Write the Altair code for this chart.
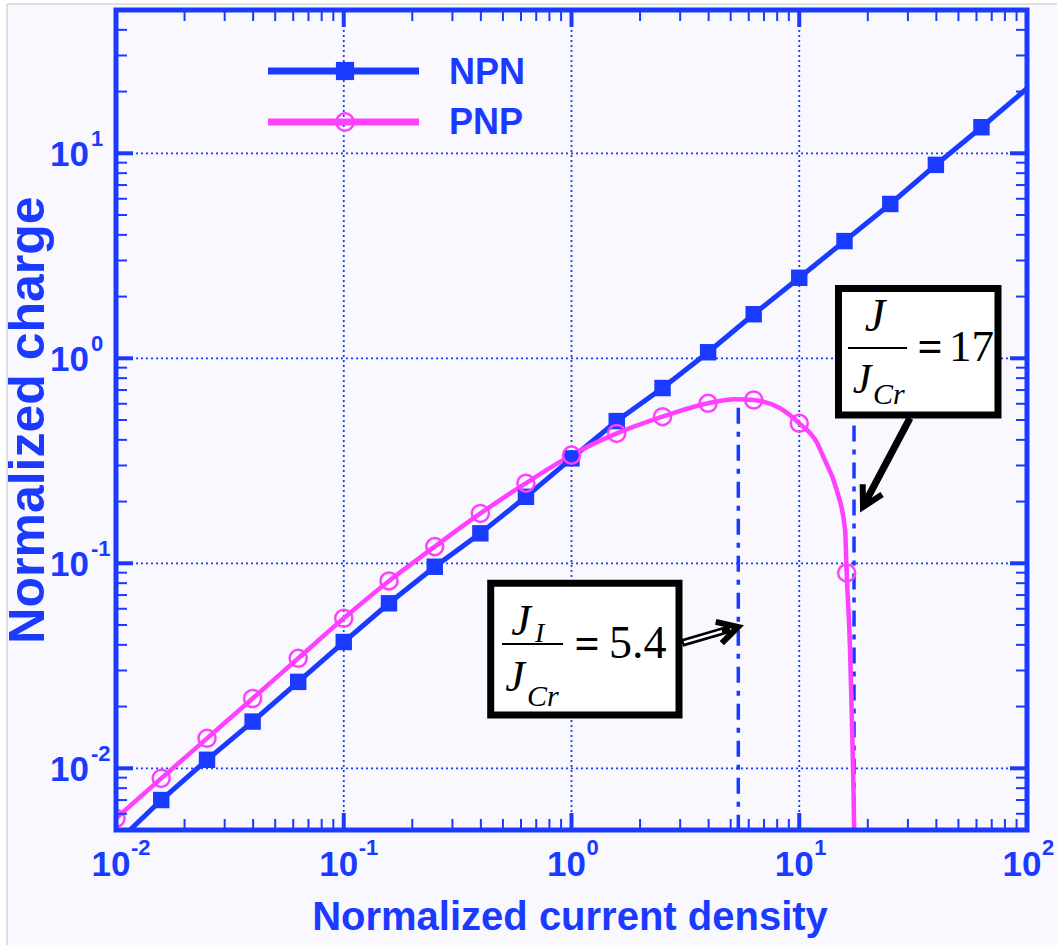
import altair as alt
import pandas as pd

BLUE = "#1a3aff"
MAGENTA = "#ff40ff"
SANS = "Liberation Sans, Arial, sans-serif"
SERIF = "Liberation Serif, Times New Roman, serif"

# ---- data ----
npn_x = [0.01, 0.0158, 0.0251, 0.0398, 0.0631, 0.1, 0.158, 0.251, 0.398, 0.631,
         1.0, 1.58, 2.51, 3.98, 6.31, 10.0, 15.8, 25.1, 39.8, 63.1, 100.0]
npn_y = [0.0043, 0.0070, 0.0110, 0.0169, 0.0264, 0.0413, 0.0638, 0.0962, 0.140, 0.211,
         0.325, 0.494, 0.716, 1.07, 1.64, 2.47, 3.73, 5.66, 8.78, 13.4, 20.7]
npn_mark_x = [0.0158, 0.0251, 0.0398, 0.0631, 0.1, 0.158, 0.251, 0.398, 0.631,
              1.0, 1.58, 2.51, 3.98, 6.31, 10.0, 15.8, 25.1, 39.8, 63.1]
npn_mark_y = [0.0070, 0.0110, 0.0169, 0.0264, 0.0413, 0.0638, 0.0962, 0.140, 0.211,
              0.325, 0.494, 0.716, 1.07, 1.64, 2.47, 3.73, 5.66, 8.78, 13.4]

pnp_x = [0.01, 0.0158, 0.0251, 0.0398, 0.0631, 0.1, 0.158, 0.251, 0.398, 0.631,
         1.0, 1.58, 2.51, 3.98, 5.2, 6.31, 8.2, 10.0, 12.0, 12.75, 14.6, 15.9,
         16.15, 16.7, 17.0, 17.27, 17.4, 17.45]
pnp_y = [0.0057, 0.00893, 0.0140, 0.0219, 0.0344, 0.0539, 0.0820, 0.1206, 0.175, 0.246,
         0.337, 0.430, 0.519, 0.603, 0.632, 0.626, 0.572, 0.482, 0.385, 0.331, 0.228, 0.145,
         0.0897, 0.039, 0.0185, 0.0088, 0.0054, 0.004]
pnp_mark_x = [0.01, 0.0158, 0.0251, 0.0398, 0.0631, 0.1, 0.158, 0.251, 0.398, 0.631,
              1.0, 1.58, 2.51, 3.98, 6.31, 10.0, 16.15]
pnp_mark_y = [0.0057, 0.00893, 0.0140, 0.0219, 0.0344, 0.0539, 0.0820, 0.1206, 0.175, 0.246,
              0.337, 0.430, 0.519, 0.603, 0.626, 0.482, 0.0897]

vline_x = [5.4, 17.4]
vline_top = [0.573, 0.47]
vline_bot = [0.005, 0.005]

x_decades = [0.01, 0.1, 1, 10, 100]
x_exps = ["-2", "-1", "0", "1", "2"]
y_decades = [0.01, 0.1, 1, 10]
y_exps = ["-2", "-1", "0", "1"]

x_major = [0.1, 1, 10]
x_minor = [m * 10.0 ** k for k in (-2, -1, 0, 1) for m in range(2, 10)]
y_major = [0.01, 0.1, 1, 10]
y_minor = [0.006, 0.007, 0.008, 0.009] + [m * 10.0 ** k for k in (-2, -1, 0) for m in range(2, 10)] + [20, 30, 40]

W, H = 911, 820
MAJ, MIN = 17, 11

xs = alt.Scale(type="log", domain=[0.01, 100])
ys = alt.Scale(type="log", domain=[0.005, 50])


def X(f):
    return alt.X(f, type="quantitative", scale=xs, axis=None)


def Y(f):
    return alt.Y(f, type="quantitative", scale=ys, axis=None)


one = pd.DataFrame({"a": [0]})
npn_df = pd.DataFrame({"x": npn_x, "y": npn_y})
npn_m = pd.DataFrame({"x": npn_mark_x, "y": npn_mark_y})
pnp_df = pd.DataFrame({"x": pnp_x, "y": pnp_y})
pnp_m = pd.DataFrame({"x": pnp_mark_x, "y": pnp_mark_y})
vl_df = pd.DataFrame({"x": vline_x, "top": vline_top, "bot": vline_bot})

layers = []

# background panel with thin grey border
layers.append(alt.Chart(one).mark_rect(fill="#f8f8fe", stroke="#c4c4c4", strokeWidth=1).encode(
    x=alt.value(-109), x2=alt.value(960), y=alt.value(-6), y2=alt.value(950)))

# dotted grid
layers.append(alt.Chart(pd.DataFrame({"v": x_major})).mark_rule(
    color=BLUE, strokeWidth=1.8, strokeDash=[2, 3]).encode(x=X("v"), y=alt.value(0), y2=alt.value(H)))
layers.append(alt.Chart(pd.DataFrame({"v": y_major})).mark_rule(
    color=BLUE, strokeWidth=1.8, strokeDash=[2, 3]).encode(y=Y("v"), x=alt.value(0), x2=alt.value(W)))

# dash-dot markers
layers.append(alt.Chart(vl_df).mark_rule(color=BLUE, strokeWidth=3.5, strokeDash=[16, 8, 5, 8]).encode(
    x=X("x"), y=Y("top"), y2=alt.Y2("bot")))

# data lines
layers.append(alt.Chart(npn_df).mark_line(color=BLUE, strokeWidth=5, clip=True).encode(x=X("x"), y=Y("y")))
layers.append(alt.Chart(pnp_df).mark_line(color=MAGENTA, strokeWidth=4.5, clip=True, interpolate="monotone").encode(
    x=X("x"), y=Y("y")))
layers.append(alt.Chart(npn_m).mark_point(shape="square", filled=True, size=270, color=BLUE, opacity=1).encode(
    x=X("x"), y=Y("y")))
layers.append(alt.Chart(pnp_m).mark_point(shape="circle", filled=False, size=290, color=MAGENTA,
                                          strokeWidth=2.5, opacity=1, clip=True).encode(x=X("x"), y=Y("y")))

# frame
layers.append(alt.Chart(one).mark_rect(fillOpacity=0, stroke=BLUE, strokeWidth=5).encode(
    x=alt.value(0), x2=alt.value(W), y=alt.value(0), y2=alt.value(H)))

# inward ticks
for vals, L, sw in ((x_major, MAJ, 4), (x_minor, MIN, 2)):
    d = pd.DataFrame({"v": vals})
    layers.append(alt.Chart(d).mark_rule(color=BLUE, strokeWidth=sw).encode(
        x=X("v"), y=alt.value(H), y2=alt.value(H - L)))
    layers.append(alt.Chart(d).mark_rule(color=BLUE, strokeWidth=sw).encode(
        x=X("v"), y=alt.value(0), y2=alt.value(L)))
for vals, L, sw in ((y_major, MAJ, 4), (y_minor, MIN, 2)):
    d = pd.DataFrame({"v": vals})
    layers.append(alt.Chart(d).mark_rule(color=BLUE, strokeWidth=sw).encode(
        y=Y("v"), x=alt.value(0), x2=alt.value(L)))
    layers.append(alt.Chart(d).mark_rule(color=BLUE, strokeWidth=sw).encode(
        y=Y("v"), x=alt.value(W), x2=alt.value(W - L)))

# tick labels (10 with superscript exponent)
xl = pd.DataFrame({"v": x_decades, "e": x_exps})
layers.append(alt.Chart(xl).mark_text(text="10", font=SANS, fontWeight="bold", fontSize=35, color=BLUE,
                                      align="center", baseline="alphabetic", dx=-5).encode(
    x=X("v"), y=alt.value(866)))
layers.append(alt.Chart(xl).mark_text(font=SANS, fontWeight="bold", fontSize=22, color=BLUE,
                                      align="left", baseline="alphabetic", dx=15).encode(
    x=X("v"), y=alt.value(845), text="e:N"))
yl = pd.DataFrame({"v": y_decades, "e": y_exps})
layers.append(alt.Chart(yl).mark_text(text="10", font=SANS, fontWeight="bold", fontSize=35, color=BLUE,
                                      align="right", baseline="alphabetic", dy=13).encode(
    y=Y("v"), x=alt.value(-27)))
layers.append(alt.Chart(yl).mark_text(font=SANS, fontWeight="bold", fontSize=22, color=BLUE,
                                      align="left", baseline="alphabetic", dy=-7).encode(
    y=Y("v"), x=alt.value(-25), text="e:N"))

# axis titles
layers.append(alt.Chart(one).mark_text(text="Normalized current density", font=SANS, fontWeight="bold",
                                       fontSize=40, color=BLUE, align="center", baseline="alphabetic").encode(
    x=alt.value(454), y=alt.value(920)))
layers.append(alt.Chart(one).mark_text(text="Normalized charge", font=SANS, fontWeight="bold",
                                       fontSize=50, color=BLUE, align="center", baseline="middle",
                                       angle=270).encode(x=alt.value(-87), y=alt.value(410)))

# legend
layers.append(alt.Chart(one).mark_rule(color=BLUE, strokeWidth=7).encode(
    x=alt.value(152), x2=alt.value(303), y=alt.value(61)))
layers.append(alt.Chart(one).mark_point(shape="square", filled=True, size=330, color=BLUE, opacity=1).encode(
    x=alt.value(229), y=alt.value(61)))
layers.append(alt.Chart(one).mark_rule(color=MAGENTA, strokeWidth=7).encode(
    x=alt.value(152), x2=alt.value(303), y=alt.value(112)))
layers.append(alt.Chart(one).mark_point(shape="circle", filled=False, size=300, color=MAGENTA,
                                        strokeWidth=2.5, opacity=1).encode(x=alt.value(229), y=alt.value(112)))
for label, yy in (("NPN", 74), ("PNP", 124)):
    layers.append(alt.Chart(one).mark_text(text=label, font=SANS, fontWeight="bold", fontSize=36,
                                           color=BLUE, align="left", baseline="alphabetic").encode(
        x=alt.value(333), y=alt.value(yy)))

# annotation boxes
for x0, x1, y0, y1 in ((722.5, 882, 278.5, 405), (374.7, 563, 573.3, 705)):
    layers.append(alt.Chart(one).mark_rect(fill="white", stroke="black", strokeWidth=7).encode(
        x=alt.value(x0), x2=alt.value(x1), y=alt.value(y0), y2=alt.value(y1)))


def txt(s, x, y, size, italic=True, align="center", weight="normal"):
    return alt.Chart(one).mark_text(text=s, font=SERIF, fontSize=size, fontStyle="italic" if italic else "normal",
                                    fontWeight=weight, color="black", align=align, baseline="alphabetic").encode(
        x=alt.value(x), y=alt.value(y))


# box J/JCr = 17
layers += [txt("J", 759, 321, 46), txt("J", 746, 383, 42), txt("Cr", 757, 394, 30, align="left"),
           txt("=", 814, 351, 44, italic=False, weight="bold"),
           txt("17", 833, 351, 45, italic=False, align="left")]
layers.append(alt.Chart(one).mark_rule(color="black", strokeWidth=2).encode(
    x=alt.value(732), x2=alt.value(791), y=alt.value(338)))
# box JI/JCr = 5.4
layers += [txt("J", 405, 625, 44), txt("I", 419, 632, 28, align="left"), txt("J", 399, 681, 44),
           txt("Cr", 411, 696, 30, align="left"),
           txt("=", 471, 648, 44, italic=False, weight="bold"),
           txt("5.4", 493, 648, 46, italic=False, align="left")]
layers.append(alt.Chart(one).mark_rule(color="black", strokeWidth=2).encode(
    x=alt.value(386), x2=alt.value(447), y=alt.value(634)))

# arrows
HEAD = "M -0.55 1 L 0 0 L 0.55 1"
layers.append(alt.Chart(one).mark_rule(color="black", strokeWidth=7).encode(
    x=alt.value(794), y=alt.value(408), x2=alt.value(750), y2=alt.value(491)))
layers.append(alt.Chart(one).mark_point(shape=HEAD, filled=False, stroke="black", strokeWidth=6, size=1600,
                                        angle=208, opacity=1).encode(x=alt.value(747), y=alt.value(497)))
layers.append(alt.Chart(one).mark_rule(color="black", strokeWidth=8).encode(
    x=alt.value(566), y=alt.value(633), x2=alt.value(614), y2=alt.value(619)))
layers.append(alt.Chart(one).mark_rule(color="white", strokeWidth=2.5).encode(
    x=alt.value(568), y=alt.value(632.4), x2=alt.value(606), y2=alt.value(621.3)))
layers.append(alt.Chart(one).mark_point(shape=HEAD, filled=False, stroke="black", strokeWidth=6, size=1600,
                                        angle=74, opacity=1).encode(x=alt.value(622), y=alt.value(617)))

chart = alt.layer(*layers).properties(
    width=W, height=H,
    padding={"left": 116, "top": 10, "right": 30, "bottom": 115},
    autosize=alt.AutoSizeParams(type="none"),
).configure(background="white").configure_view(stroke=None)

chart.save("out.html", embed_options={"renderer": "svg", "actions": False})
